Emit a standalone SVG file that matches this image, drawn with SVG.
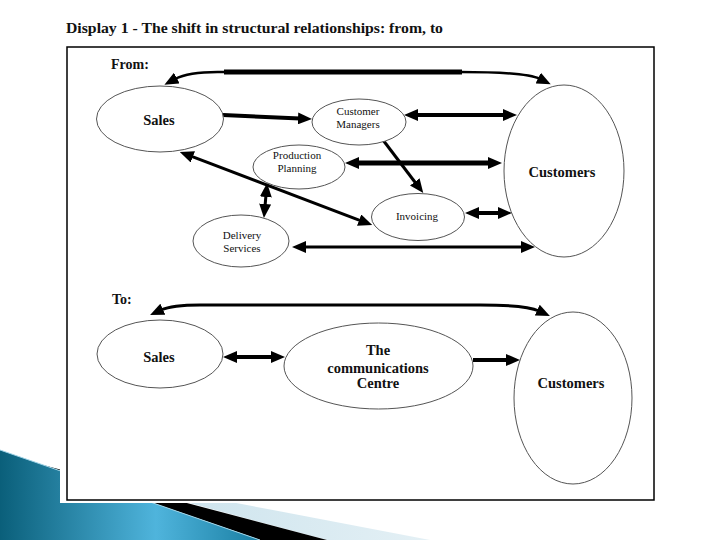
<svg xmlns="http://www.w3.org/2000/svg" width="720" height="540" viewBox="0 0 720 540">
<style>
.node{fill:#fff;stroke:#555;stroke-width:1}
.big{font-family:"Liberation Serif","Times New Roman",serif;font-size:14.5px;font-weight:bold;fill:#111;text-anchor:middle}
.small{font-family:"Liberation Serif","Times New Roman",serif;font-size:11px;fill:#111;text-anchor:middle}
.head{font-family:"Liberation Serif","Times New Roman",serif;font-size:14px;font-weight:bold;fill:#111}
.c{fill:none;stroke:#000}
</style>
<defs>
<marker id="ah" viewBox="0 0 14 12" refX="2" refY="6" markerWidth="14" markerHeight="12" markerUnits="userSpaceOnUse" orient="auto-start-reverse"><path d="M0,0 L14,6 L0,12 z" fill="#000"/></marker>
<linearGradient id="teal" x1="0" y1="0" x2="1" y2="0">
<stop offset="0" stop-color="#0a5f7a"/>
<stop offset="0.6" stop-color="#4fb4dc"/>
<stop offset="1" stop-color="#1a7fa3"/>
</linearGradient>
<linearGradient id="lb" x1="0" y1="0" x2="1" y2="0">
<stop offset="0" stop-color="#c4dfea"/>
<stop offset="1" stop-color="#e4f0f5"/>
</linearGradient>
</defs>
<rect width="720" height="540" fill="#fff"/>
<g id="swoosh">
<polygon points="74,472 327,540 430,540" fill="url(#lb)"/>
<polygon points="43,465 260,540 327,540" fill="#000"/>
<polygon points="0,450 260,540 0,540" fill="url(#teal)"/>
<line x1="0" y1="450" x2="260" y2="540" stroke="#9fd3e6" stroke-width="1"/>
</g>
<rect x="60" y="6" width="602" height="497" fill="#fff"/>
<text class="head" x="66" y="33" textLength="377" lengthAdjust="spacingAndGlyphs">Display 1 - The shift in structural relationships: from, to</text>
<rect x="67" y="47" width="587" height="453" fill="none" stroke="#000" stroke-width="1.5"/>
<text class="head" x="111" y="69">From:</text>
<text class="head" x="112" y="304">To:</text>
<g id="connectors">
<path class="c" d="M175,79 Q190,71 225,72 L460,72 Q526,72 540,79" stroke-width="2.5" marker-start="url(#ah)" marker-end="url(#ah)"/>
<line class="c" x1="224" y1="72" x2="462" y2="72" stroke-width="5"/>
<line class="c" x1="223" y1="115" x2="300" y2="118.5" stroke-width="4" marker-end="url(#ah)"/>
<line class="c" x1="416" y1="115" x2="505" y2="115" stroke-width="4" marker-start="url(#ah)" marker-end="url(#ah)"/>
<line class="c" x1="357" y1="163" x2="490" y2="163" stroke-width="5" marker-start="url(#ah)" marker-end="url(#ah)"/>
<line class="c" x1="383" y1="140" x2="416" y2="183.5" stroke-width="3" marker-end="url(#ah)"/>
<line class="c" x1="191" y1="156.2" x2="361" y2="220.8" stroke-width="3" marker-start="url(#ah)" marker-end="url(#ah)"/>
<line class="c" x1="266" y1="195" x2="265" y2="206" stroke-width="3" marker-start="url(#ah)" marker-end="url(#ah)"/>
<line class="c" x1="477" y1="213" x2="500" y2="213" stroke-width="4" marker-start="url(#ah)" marker-end="url(#ah)"/>
<line class="c" x1="304" y1="247" x2="523" y2="247" stroke-width="3" marker-start="url(#ah)" marker-end="url(#ah)"/>
<path class="c" d="M161,310 Q172,305 200,305 L480,305 Q526,305 539,311" stroke-width="3" marker-start="url(#ah)" marker-end="url(#ah)"/>
<line class="c" x1="235" y1="357" x2="273" y2="357" stroke-width="4" marker-start="url(#ah)" marker-end="url(#ah)"/>
<line class="c" x1="473" y1="360" x2="508" y2="360" stroke-width="4" marker-end="url(#ah)"/>
</g>
<g id="sales-from">
<ellipse class="node" cx="160" cy="119" rx="63.5" ry="33"/>
<text class="big" x="159" y="125">Sales</text>
</g>
<g id="customer-managers">
<ellipse class="node" cx="359" cy="122" rx="47" ry="23"/>
<text class="small" x="358" y="115">Customer</text>
<text class="small" x="358" y="128">Managers</text>
</g>
<g id="production-planning">
<ellipse class="node" cx="299" cy="167" rx="46" ry="22"/>
<text class="small" x="297" y="159">Production</text>
<text class="small" x="297" y="172">Planning</text>
</g>
<g id="invoicing">
<ellipse class="node" cx="418" cy="217" rx="46.5" ry="23.5"/>
<text class="small" x="417" y="220">Invoicing</text>
</g>
<g id="delivery-services">
<ellipse class="node" cx="241" cy="241" rx="48" ry="26"/>
<text class="small" x="242" y="239">Delivery</text>
<text class="small" x="242" y="252">Services</text>
</g>
<g id="customers-from">
<ellipse class="node" cx="564" cy="171" rx="60" ry="86"/>
<text class="big" x="562" y="177">Customers</text>
</g>
<g id="sales-to">
<ellipse class="node" cx="160" cy="354" rx="63" ry="34"/>
<text class="big" x="159" y="362">Sales</text>
</g>
<g id="communications-centre">
<ellipse class="node" cx="378.5" cy="366" rx="94.5" ry="43"/>
<text class="big" x="378" y="355">The</text>
<text class="big" x="378" y="373">communications</text>
<text class="big" x="378" y="388">Centre</text>
</g>
<g id="customers-to">
<ellipse class="node" cx="573" cy="398" rx="59" ry="86"/>
<text class="big" x="571" y="388">Customers</text>
</g>
</svg>
